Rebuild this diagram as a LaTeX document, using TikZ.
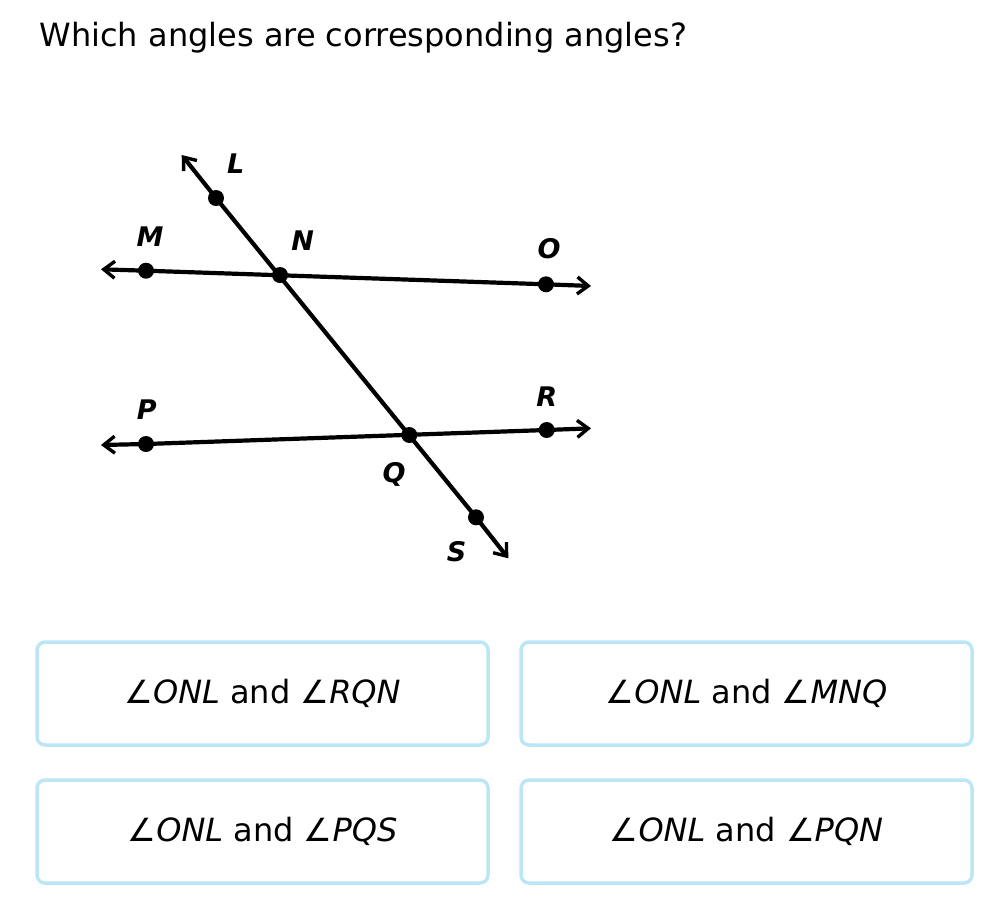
\documentclass[tikz,border=0pt]{standalone}
\usepackage{fontspec}
\setmainfont{DejaVu Sans}
\usetikzlibrary{arrows.meta}
\definecolor{boxblue}{RGB}{188,230,245}
\newcommand{\angname}[1]{\char"2220\textit{#1}}

\begin{document}
\begin{tikzpicture}[x=1pt, y=-1pt,
    ray/.style={line width=4.2pt, -{Straight Barb[length=11pt, width=17pt, line width=3.4pt]}},
    seg/.style={line width=4.2pt},
    lbl/.style={font=\fontsize{27}{32}\selectfont\bfseries\itshape},
    answer/.style={draw=boxblue, line width=3.5pt, rounded corners=8pt,
      minimum width=451pt, minimum height=103pt,
      font=\fontsize{32}{38}\selectfont}]
    \useasboundingbox (0,0) rectangle (996,914);
    \node[anchor=base west, font=\fontsize{32}{38}\selectfont] (title) at (36,46)
      {Which angles are corresponding angles?};

    % points on the lines
    \coordinate (L) at (216,198);
    \coordinate (N) at (280,275);
    \coordinate (M) at (146,270.7);
    \coordinate (O) at (546,284.3);
    \coordinate (P) at (146,444);
    \coordinate (Q) at (409.3,435);
    \coordinate (R) at (546.7,430);
    \coordinate (S) at (476,517.3);
    % arrow ends
    \coordinate (Lend) at (181.7,155);
    \coordinate (Send) at (508.3,558.3);
    \coordinate (Mend) at (101,269.3);
    \coordinate (Oend) at (591,286);
    \coordinate (Pend) at (101,445);
    \coordinate (Rend) at (591,428.3);

    \draw[seg] (L) -- (S);
    \draw[ray] (L) -- (Lend);
    \draw[ray] (S) -- (Send);
    \draw[seg] (M) -- (O);
    \draw[ray] (M) -- (Mend);
    \draw[ray] (O) -- (Oend);
    \draw[seg] (P) -- (R);
    \draw[ray] (P) -- (Pend);
    \draw[ray] (R) -- (Rend);
    \foreach \p in {L,N,M,O,P,Q,R,S}{
      \fill (\p) circle (8);
    }

    \node[lbl] (lL) at (235.7,164) {L};
    \node[lbl] (lM) at (150,237) {M};
    \node[lbl] (lN) at (302.7,241) {N};
    \node[lbl] (lO) at (549,249) {O};
    \node[lbl] (lP) at (146.7,410) {P};
    \node[lbl] (lR) at (546.7,397) {R};
    \node[lbl] (lQ) at (394,474) {Q};
    \node[lbl] (lS) at (456.7,552) {S};

    \node[answer] (a1) at (262.5,693.5) {\angname{ONL} and \angname{RQN}};
    \node[answer] (a2) at (746.5,693.5) {\angname{ONL} and \angname{MNQ}};
    \node[answer] (a3) at (262.5,831.5) {\angname{ONL} and \angname{PQS}};
    \node[answer] (a4) at (746.5,831.5) {\angname{ONL} and \angname{PQN}};
\end{tikzpicture}
\end{document}
